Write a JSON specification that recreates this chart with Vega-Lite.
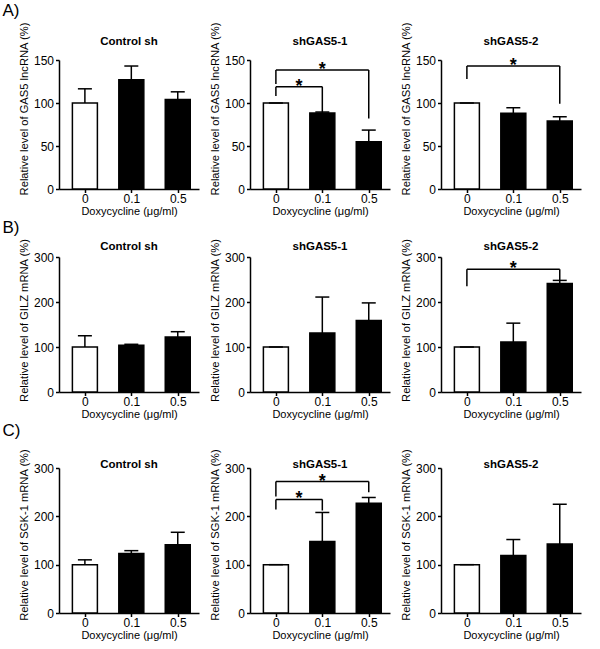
{
  "$schema": "https://vega.github.io/schema/vega-lite/v6.json",
  "padding": {"left": 2, "top": 2, "right": 5, "bottom": 0},
  "datasets": {
    "d": [
      {"row": "A", "panel": "Control sh", "kind": "bar", "i": 0, "mean": 100, "upper": 116.5},
      {"row": "A", "panel": "Control sh", "kind": "bar", "i": 1, "mean": 127, "upper": 143},
      {"row": "A", "panel": "Control sh", "kind": "bar", "i": 2, "mean": 104, "upper": 113},
      {"row": "A", "panel": "shGAS5-1", "kind": "bar", "i": 0, "mean": 100, "upper": 100},
      {"row": "A", "panel": "shGAS5-1", "kind": "bar", "i": 1, "mean": 88.5, "upper": 89.5},
      {"row": "A", "panel": "shGAS5-1", "kind": "bar", "i": 2, "mean": 55, "upper": 68.5},
      {"row": "A", "panel": "shGAS5-2", "kind": "bar", "i": 0, "mean": 100, "upper": 100},
      {"row": "A", "panel": "shGAS5-2", "kind": "bar", "i": 1, "mean": 88, "upper": 94.5},
      {"row": "A", "panel": "shGAS5-2", "kind": "bar", "i": 2, "mean": 79, "upper": 84},
      {"row": "A", "panel": "shGAS5-1", "kind": "br", "from": 0, "to": 2, "mid": 1, "level": 138.5, "lb": 122, "rb": 82},
      {"row": "A", "panel": "shGAS5-1", "kind": "br", "from": 0, "to": 1, "mid": 0.5, "level": 119, "lb": 108, "rb": 89.5},
      {"row": "A", "panel": "shGAS5-2", "kind": "br", "from": 0, "to": 2, "mid": 1, "level": 143, "lb": 128, "rb": 99},
      {"row": "B", "panel": "Control sh", "kind": "bar", "i": 0, "mean": 100, "upper": 125},
      {"row": "B", "panel": "Control sh", "kind": "bar", "i": 1, "mean": 104, "upper": 106},
      {"row": "B", "panel": "Control sh", "kind": "bar", "i": 2, "mean": 122, "upper": 134},
      {"row": "B", "panel": "shGAS5-1", "kind": "bar", "i": 0, "mean": 100, "upper": 100},
      {"row": "B", "panel": "shGAS5-1", "kind": "bar", "i": 1, "mean": 131, "upper": 211},
      {"row": "B", "panel": "shGAS5-1", "kind": "bar", "i": 2, "mean": 159, "upper": 198},
      {"row": "B", "panel": "shGAS5-2", "kind": "bar", "i": 0, "mean": 100, "upper": 100},
      {"row": "B", "panel": "shGAS5-2", "kind": "bar", "i": 1, "mean": 111, "upper": 153},
      {"row": "B", "panel": "shGAS5-2", "kind": "bar", "i": 2, "mean": 241, "upper": 248},
      {"row": "B", "panel": "shGAS5-2", "kind": "br", "from": 0, "to": 2, "mid": 1, "level": 273, "lb": 235, "rb": 248},
      {"row": "C", "panel": "Control sh", "kind": "bar", "i": 0, "mean": 100, "upper": 110},
      {"row": "C", "panel": "Control sh", "kind": "bar", "i": 1, "mean": 123, "upper": 129},
      {"row": "C", "panel": "Control sh", "kind": "bar", "i": 2, "mean": 141, "upper": 167},
      {"row": "C", "panel": "shGAS5-1", "kind": "bar", "i": 0, "mean": 100, "upper": 100},
      {"row": "C", "panel": "shGAS5-1", "kind": "bar", "i": 1, "mean": 148, "upper": 208},
      {"row": "C", "panel": "shGAS5-1", "kind": "bar", "i": 2, "mean": 227, "upper": 239},
      {"row": "C", "panel": "shGAS5-2", "kind": "bar", "i": 0, "mean": 100, "upper": 100},
      {"row": "C", "panel": "shGAS5-2", "kind": "bar", "i": 1, "mean": 119, "upper": 152},
      {"row": "C", "panel": "shGAS5-2", "kind": "bar", "i": 2, "mean": 143, "upper": 225},
      {"row": "C", "panel": "shGAS5-1", "kind": "br", "from": 0, "to": 2, "mid": 1, "level": 272, "lb": 241, "rb": 250},
      {"row": "C", "panel": "shGAS5-1", "kind": "br", "from": 0, "to": 1, "mid": 0.5, "level": 235, "lb": 214, "rb": 212}
    ]
  },
  "config": {
    "font": "Liberation Sans",
    "view": {"stroke": null},
    "axis": {"grid": false, "domainColor": "black", "domainWidth": 1.5, "tickColor": "black", "tickWidth": 1.5, "tickSize": 3.5, "labelColor": "black", "labelFontSize": 12, "titleColor": "black", "titleFontSize": 11, "titleFontWeight": "normal", "labelPadding": 1, "titlePadding": 1},
    "axisY": {"titlePadding": 4, "titleFontSize": 11.2, "labelPadding": 2},
    "header": {"labelFontSize": 11.5, "labelFontWeight": "bold", "labelColor": "black"},
    "title": {"fontSize": 17, "fontWeight": "normal", "anchor": "start", "color": "black", "dx": -16, "offset": 1},
    "concat": {"spacing": 2}
  },
  "vconcat": [
    {
      "title": "A)",
      "data": {"name": "d"},
      "transform": [{"filter": "datum.row === 'A'"}],
      "facet": {"column": {"field": "panel", "type": "nominal", "sort": ["Control sh", "shGAS5-1", "shGAS5-2"], "header": {"title": null, "labelPadding": -26}}},
      "spacing": 10,
      "resolve": {"axis": {"y": "independent", "x": "independent"}},
      "spec": {
        "width": 140,
        "height": 129,
        "layer": [
          {"transform": [{"filter": "datum.kind === 'bar'"}],
           "mark": {"type": "bar", "width": 25, "stroke": "black", "strokeWidth": 1.5, "orient": "vertical"},
           "encoding": {
             "x": {"field": "i", "type": "quantitative", "scale": {"domain": [-0.45, 2.35], "nice": false, "zero": false}, "axis": {"values": [0, 1, 2], "labelExpr": "datum.value == 0 ? '0' : datum.value == 1 ? '0.1' : '0.5'", "title": "Doxycycline (μg/ml)"}},
             "y": {"field": "mean", "type": "quantitative", "scale": {"domain": [0, 150], "nice": false}, "axis": {"values": [0, 50, 100, 150], "title": "Relative level of GAS5 lncRNA (%)", "titleY": 48.5}},
             "fill": {"condition": {"test": "datum.i === 0", "value": "white"}, "value": "black"}
           }},
          {"transform": [{"filter": "datum.kind === 'bar'"}],
           "mark": {"type": "rule", "strokeWidth": 1.5, "color": "black"},
           "encoding": {"x": {"field": "i", "type": "quantitative"}, "y": {"field": "mean", "type": "quantitative"}, "y2": {"field": "upper"}}},
          {"transform": [{"filter": "datum.kind === 'bar'"}],
           "mark": {"type": "tick", "orient": "horizontal", "size": 14, "thickness": 1.5, "color": "black", "opacity": 1},
           "encoding": {"x": {"field": "i", "type": "quantitative"}, "y": {"field": "upper", "type": "quantitative"}}},
          {"transform": [{"filter": "datum.kind === 'br'"}],
           "mark": {"type": "rule", "strokeWidth": 1.5, "color": "black"},
           "encoding": {"x": {"field": "from", "type": "quantitative"}, "x2": {"field": "to"}, "y": {"field": "level", "type": "quantitative"}}},
          {"transform": [{"filter": "datum.kind === 'br'"}],
           "mark": {"type": "rule", "strokeWidth": 1.5, "color": "black"},
           "encoding": {"x": {"field": "from", "type": "quantitative"}, "y": {"field": "level", "type": "quantitative"}, "y2": {"field": "lb"}}},
          {"transform": [{"filter": "datum.kind === 'br'"}],
           "mark": {"type": "rule", "strokeWidth": 1.5, "color": "black"},
           "encoding": {"x": {"field": "to", "type": "quantitative"}, "y": {"field": "level", "type": "quantitative"}, "y2": {"field": "rb"}}},
          {"transform": [{"filter": "datum.kind === 'br'"}],
           "mark": {"type": "text", "text": "*", "fontSize": 18, "fontWeight": "bold", "baseline": "alphabetic", "dy": 5, "color": "black"},
           "encoding": {"x": {"field": "mid", "type": "quantitative"}, "y": {"field": "level", "type": "quantitative"}}}
        ]
      }
    },
    {
      "title": "B)",
      "data": {"name": "d"},
      "transform": [{"filter": "datum.row === 'B'"}],
      "facet": {"column": {"field": "panel", "type": "nominal", "sort": ["Control sh", "shGAS5-1", "shGAS5-2"], "header": {"title": null, "labelPadding": -14}}},
      "spacing": 10,
      "resolve": {"axis": {"y": "independent", "x": "independent"}},
      "spec": {
        "width": 140,
        "height": 135,
        "layer": [
          {"transform": [{"filter": "datum.kind === 'bar'"}],
           "mark": {"type": "bar", "width": 25, "stroke": "black", "strokeWidth": 1.5, "orient": "vertical"},
           "encoding": {
             "x": {"field": "i", "type": "quantitative", "scale": {"domain": [-0.45, 2.35], "nice": false, "zero": false}, "axis": {"values": [0, 1, 2], "labelExpr": "datum.value == 0 ? '0' : datum.value == 1 ? '0.1' : '0.5'", "title": "Doxycycline (μg/ml)"}},
             "y": {"field": "mean", "type": "quantitative", "scale": {"domain": [0, 300], "nice": false}, "axis": {"values": [0, 100, 200, 300], "title": "Relative level of GILZ mRNA (%)", "titleY": 63}},
             "fill": {"condition": {"test": "datum.i === 0", "value": "white"}, "value": "black"}
           }},
          {"transform": [{"filter": "datum.kind === 'bar'"}],
           "mark": {"type": "rule", "strokeWidth": 1.5, "color": "black"},
           "encoding": {"x": {"field": "i", "type": "quantitative"}, "y": {"field": "mean", "type": "quantitative"}, "y2": {"field": "upper"}}},
          {"transform": [{"filter": "datum.kind === 'bar'"}],
           "mark": {"type": "tick", "orient": "horizontal", "size": 14, "thickness": 1.5, "color": "black", "opacity": 1},
           "encoding": {"x": {"field": "i", "type": "quantitative"}, "y": {"field": "upper", "type": "quantitative"}}},
          {"transform": [{"filter": "datum.kind === 'br'"}],
           "mark": {"type": "rule", "strokeWidth": 1.5, "color": "black"},
           "encoding": {"x": {"field": "from", "type": "quantitative"}, "x2": {"field": "to"}, "y": {"field": "level", "type": "quantitative"}}},
          {"transform": [{"filter": "datum.kind === 'br'"}],
           "mark": {"type": "rule", "strokeWidth": 1.5, "color": "black"},
           "encoding": {"x": {"field": "from", "type": "quantitative"}, "y": {"field": "level", "type": "quantitative"}, "y2": {"field": "lb"}}},
          {"transform": [{"filter": "datum.kind === 'br'"}],
           "mark": {"type": "rule", "strokeWidth": 1.5, "color": "black"},
           "encoding": {"x": {"field": "to", "type": "quantitative"}, "y": {"field": "level", "type": "quantitative"}, "y2": {"field": "rb"}}},
          {"transform": [{"filter": "datum.kind === 'br'"}],
           "mark": {"type": "text", "text": "*", "fontSize": 18, "fontWeight": "bold", "baseline": "alphabetic", "dy": 5, "color": "black"},
           "encoding": {"x": {"field": "mid", "type": "quantitative"}, "y": {"field": "level", "type": "quantitative"}}}
        ]
      }
    },
    {
      "title": {"text": "C)", "offset": 8},
      "data": {"name": "d"},
      "transform": [{"filter": "datum.row === 'C'"}],
      "facet": {"column": {"field": "panel", "type": "nominal", "sort": ["Control sh", "shGAS5-1", "shGAS5-2"], "header": {"title": null, "labelPadding": -22}}},
      "spacing": 10,
      "resolve": {"axis": {"y": "independent", "x": "independent"}},
      "spec": {
        "width": 140,
        "height": 145,
        "layer": [
          {"transform": [{"filter": "datum.kind === 'bar'"}],
           "mark": {"type": "bar", "width": 25, "stroke": "black", "strokeWidth": 1.5, "orient": "vertical"},
           "encoding": {
             "x": {"field": "i", "type": "quantitative", "scale": {"domain": [-0.45, 2.35], "nice": false, "zero": false}, "axis": {"values": [0, 1, 2], "labelExpr": "datum.value == 0 ? '0' : datum.value == 1 ? '0.1' : '0.5'", "title": "Doxycycline (μg/ml)"}},
             "y": {"field": "mean", "type": "quantitative", "scale": {"domain": [0, 300], "nice": false}, "axis": {"values": [0, 100, 200, 300], "title": "Relative level of SGK-1 mRNA (%)", "titleY": 66.5}},
             "fill": {"condition": {"test": "datum.i === 0", "value": "white"}, "value": "black"}
           }},
          {"transform": [{"filter": "datum.kind === 'bar'"}],
           "mark": {"type": "rule", "strokeWidth": 1.5, "color": "black"},
           "encoding": {"x": {"field": "i", "type": "quantitative"}, "y": {"field": "mean", "type": "quantitative"}, "y2": {"field": "upper"}}},
          {"transform": [{"filter": "datum.kind === 'bar'"}],
           "mark": {"type": "tick", "orient": "horizontal", "size": 14, "thickness": 1.5, "color": "black", "opacity": 1},
           "encoding": {"x": {"field": "i", "type": "quantitative"}, "y": {"field": "upper", "type": "quantitative"}}},
          {"transform": [{"filter": "datum.kind === 'br'"}],
           "mark": {"type": "rule", "strokeWidth": 1.5, "color": "black"},
           "encoding": {"x": {"field": "from", "type": "quantitative"}, "x2": {"field": "to"}, "y": {"field": "level", "type": "quantitative"}}},
          {"transform": [{"filter": "datum.kind === 'br'"}],
           "mark": {"type": "rule", "strokeWidth": 1.5, "color": "black"},
           "encoding": {"x": {"field": "from", "type": "quantitative"}, "y": {"field": "level", "type": "quantitative"}, "y2": {"field": "lb"}}},
          {"transform": [{"filter": "datum.kind === 'br'"}],
           "mark": {"type": "rule", "strokeWidth": 1.5, "color": "black"},
           "encoding": {"x": {"field": "to", "type": "quantitative"}, "y": {"field": "level", "type": "quantitative"}, "y2": {"field": "rb"}}},
          {"transform": [{"filter": "datum.kind === 'br'"}],
           "mark": {"type": "text", "text": "*", "fontSize": 18, "fontWeight": "bold", "baseline": "alphabetic", "dy": 5, "color": "black"},
           "encoding": {"x": {"field": "mid", "type": "quantitative"}, "y": {"field": "level", "type": "quantitative"}}}
        ]
      }
    }
  ]
}
